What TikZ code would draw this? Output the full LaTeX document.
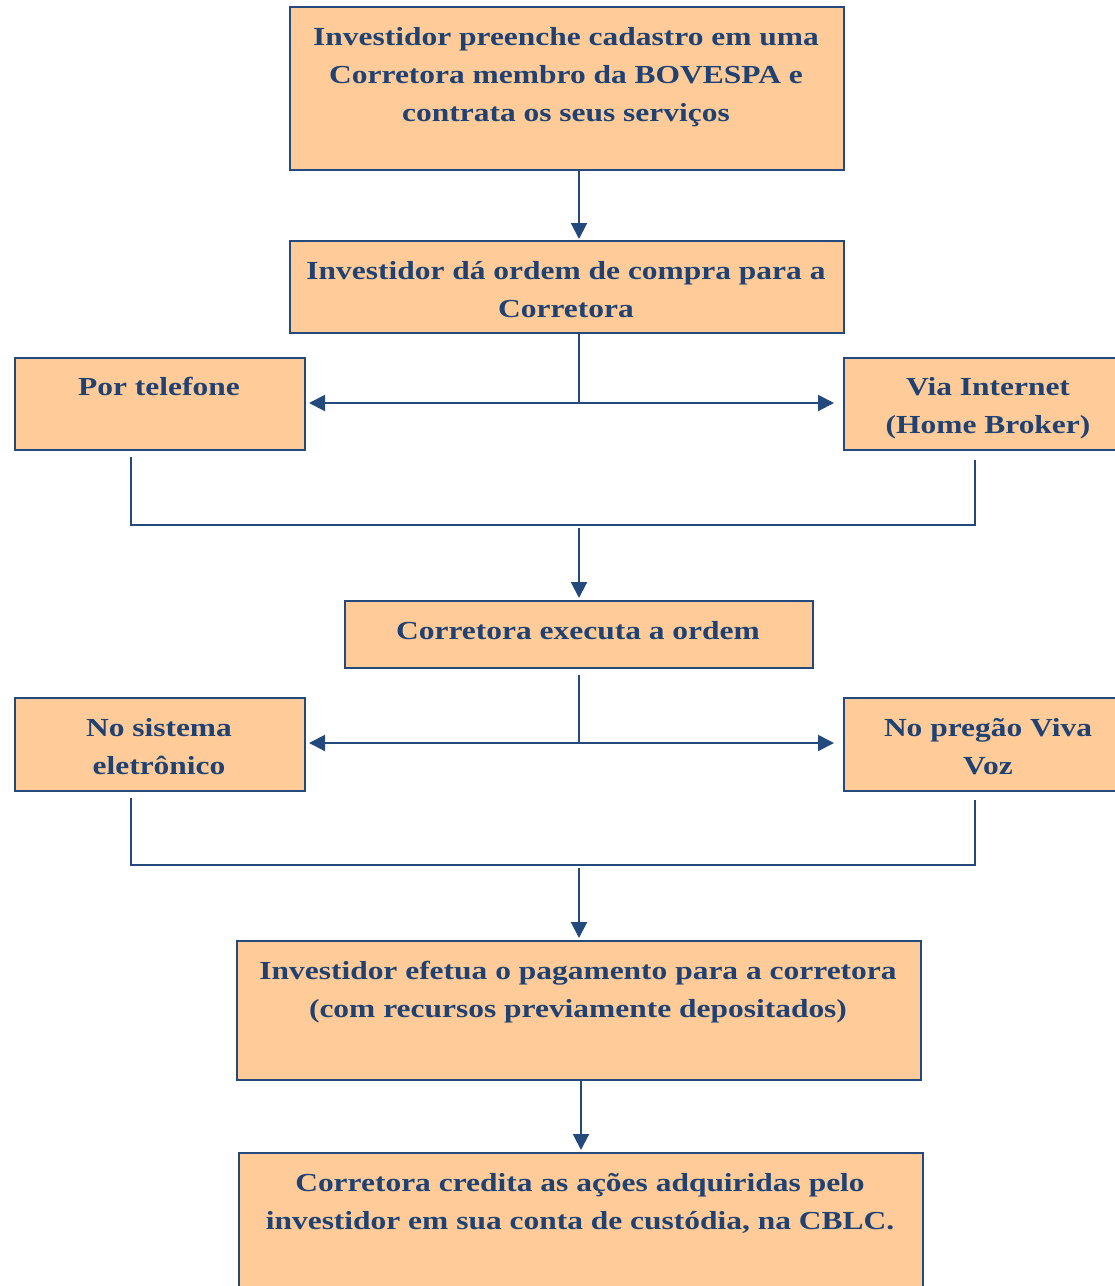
\documentclass[tikz,border=0pt]{standalone}
\usepackage{fontspec}
\setmainfont{Liberation Serif}[FakeStretch=1.21]
\usetikzlibrary{arrows.meta}
\definecolor{peach}{HTML}{FFCB98}
\definecolor{navy}{HTML}{24497C}
\definecolor{ink}{HTML}{1F4273}
\begin{document}
\begin{tikzpicture}[x=1pt,y=-1pt,
  box/.style={draw=navy, line width=2pt, fill=peach, inner sep=0pt, anchor=north west},
  lbl/.style={text=ink, align=center, inner sep=0pt, anchor=north,
    font=\bfseries\fontsize{26}{38}\selectfont},
  link/.style={draw=navy, line width=2pt},
  arr/.style={link, -{Triangle[length=16pt,width=16pt]}}]
\useasboundingbox (0,0) rectangle (1115,1286);
\clip (0,0) rectangle (1115,1286);

% boxes
\node[box, minimum width=554pt, minimum height=163pt] (b1) at (289,6) {};
\node[box, minimum width=554pt, minimum height=92pt] (b2) at (289,240) {};
\node[box, minimum width=290pt, minimum height=92pt] (bl1) at (14,357) {};
\node[box, minimum width=290pt, minimum height=92pt] (br1) at (843,357) {};
\node[box, minimum width=468pt, minimum height=67pt] (b3) at (344,600) {};
\node[box, minimum width=290pt, minimum height=93pt] (bl2) at (14,697) {};
\node[box, minimum width=290pt, minimum height=93pt] (br2) at (843,697) {};
\node[box, minimum width=684pt, minimum height=139pt] (b5) at (236,940) {};
\node[box, minimum width=684pt, minimum height=140pt] (b6) at (238,1152) {};

% texts
\node[lbl] (t1) at (566,27) {Investidor preenche cadastro em uma\\Corretora membro da BOVESPA e\\contrata os seus serviços};
\node[lbl] (t2) at (566,261) {Investidor dá ordem de compra para a\\Corretora};
\node[lbl] (tl1) at (159,377) {Por telefone};
\node[lbl] (tr1) at (988,377) {Via Internet\\(Home Broker)};
\node[lbl] (t3) at (578,621) {Corretora executa a ordem};
\node[lbl] (tl2) at (159,718) {No sistema\\eletrônico};
\node[lbl] (tr2) at (988,718) {No pregão Viva\\Voz};
\node[lbl] (t5) at (578,961) {Investidor efetua o pagamento para a corretora\\(com recursos previamente depositados)};
\node[lbl] (t6) at (580,1173) {Corretora credita as ações adquiridas pelo\\investidor em sua conta de custódia, na CBLC.};

% junction points
\coordinate (a1) at (579,0);
\coordinate (a2) at (581,0);
\coordinate (j1) at (579,403);
\coordinate (j2) at (579,743);
\coordinate (m1l) at (131,525);
\coordinate (m1r) at (975,525);
\coordinate (m2l) at (131,865);
\coordinate (m2r) at (975,865);

% step 1 -> step 2
\draw[arr, shorten >=1pt] (b1.south -| a1) -- (b2.north -| a1);

% order channels
\draw[link] (b2.south -| a1) -- (j1);
\draw[arr, shorten >=3pt] (j1) -- (bl1.east |- j1);
\draw[arr, shorten >=9pt] (j1) -- (br1.west |- j1);
\draw[link] ([yshift=-6pt]bl1.south -| m1l) -- (m1l) -- (m1r) -- ([yshift=-9pt]br1.south -| m1r);
\draw[arr, shorten >=2pt] ([yshift=-3pt]m1l -| a1) -- (b3.north -| a1);

% execution venues
\draw[link] ([yshift=-6pt]b3.south -| a1) -- (j2);
\draw[arr, shorten >=3pt] (j2) -- (bl2.east |- j2);
\draw[arr, shorten >=9pt] (j2) -- (br2.west |- j2);
\draw[link] ([yshift=-6pt]bl2.south -| m2l) -- (m2l) -- (m2r) -- ([yshift=-8pt]br2.south -| m2r);
\draw[arr, shorten >=2pt] ([yshift=-3pt]m2l -| a1) -- (b5.north -| a1);

% payment -> custody
\draw[arr, shorten >=2pt] (b5.south -| a2) -- (b6.north -| a2);
\end{tikzpicture}
\end{document}
